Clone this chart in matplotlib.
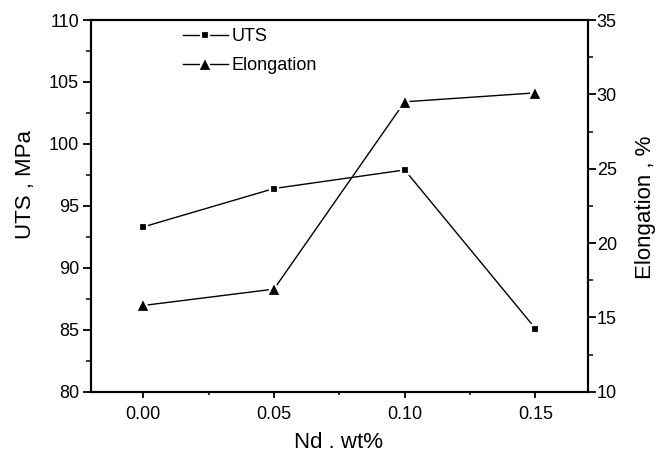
import matplotlib.pyplot as plt
from matplotlib.ticker import MultipleLocator

plt.rcParams['font.family'] = ['Liberation Sans', 'DejaVu Sans']

nd = [0.00, 0.05, 0.10, 0.15]
uts = [93.3, 96.4, 97.9, 85.1]
elong = [15.8, 16.9, 29.5, 30.1]

fig = plt.figure(figsize=(6.67, 4.53), dpi=100)
ax = fig.add_axes([0.1364, 0.1353, 0.7447, 0.8205])
ax2 = ax.twinx()

# линии с "разрывом" у маркеров, как в Origin
l1, = ax.plot(nd, uts, '-', color='black', lw=1.0, marker='s', ms=5.5,
              mfc='black', mec='white', mew=1.6, label='UTS')
l2, = ax2.plot(nd, elong, '-', color='black', lw=1.0, marker='^', ms=9.5,
               mfc='black', mec='white', mew=1.6, label='Elongation')

ax.set_xlim(-0.02, 0.17)
ax.set_ylim(80, 110)
ax2.set_ylim(10, 35)

ax.xaxis.set_major_locator(MultipleLocator(0.05))
ax.xaxis.set_minor_locator(MultipleLocator(0.025))
ax.yaxis.set_major_locator(MultipleLocator(5))
ax.yaxis.set_minor_locator(MultipleLocator(2.5))
ax2.yaxis.set_major_locator(MultipleLocator(5))
ax2.yaxis.set_minor_locator(MultipleLocator(2.5))
ax.xaxis.set_major_formatter(plt.FormatStrFormatter('%.2f'))

for a in (ax, ax2):
    a.tick_params(which='major', direction='out', length=5.5, width=1.3, labelsize=13)
    a.tick_params(which='minor', direction='out', length=3.5, width=1.1)
    for s in a.spines.values():
        s.set_linewidth(1.5)
ax.tick_params(axis='x', which='major', length=4, pad=6)
ax.tick_params(axis='x', which='minor', length=2.5)
ax.tick_params(axis='y', pad=3)
ax2.tick_params(axis='y', pad=1)

# подписи осей
fig.text(26 / 667, 1 - 184 / 453, 'UTS , MPa', rotation=90, fontsize=16,
         ha='center', va='center')
fig.text(645 / 667, 1 - 207 / 453, 'Elongation , %', rotation=90, fontsize=16,
         ha='center', va='center')
fig.text(338.5 / 667, 5 / 453, 'Nd . wt%', fontsize=16,
         ha='center', va='baseline')

ax2.legend([l1, l2], ['UTS', 'Elongation'], loc='upper left',
           bbox_to_anchor=(0.185, 0.979), frameon=False, fontsize=13,
           handlelength=2.5, handletextpad=0.2, labelspacing=0.7,
           borderpad=0, borderaxespad=0)

fig.savefig('out.png', dpi=100)
